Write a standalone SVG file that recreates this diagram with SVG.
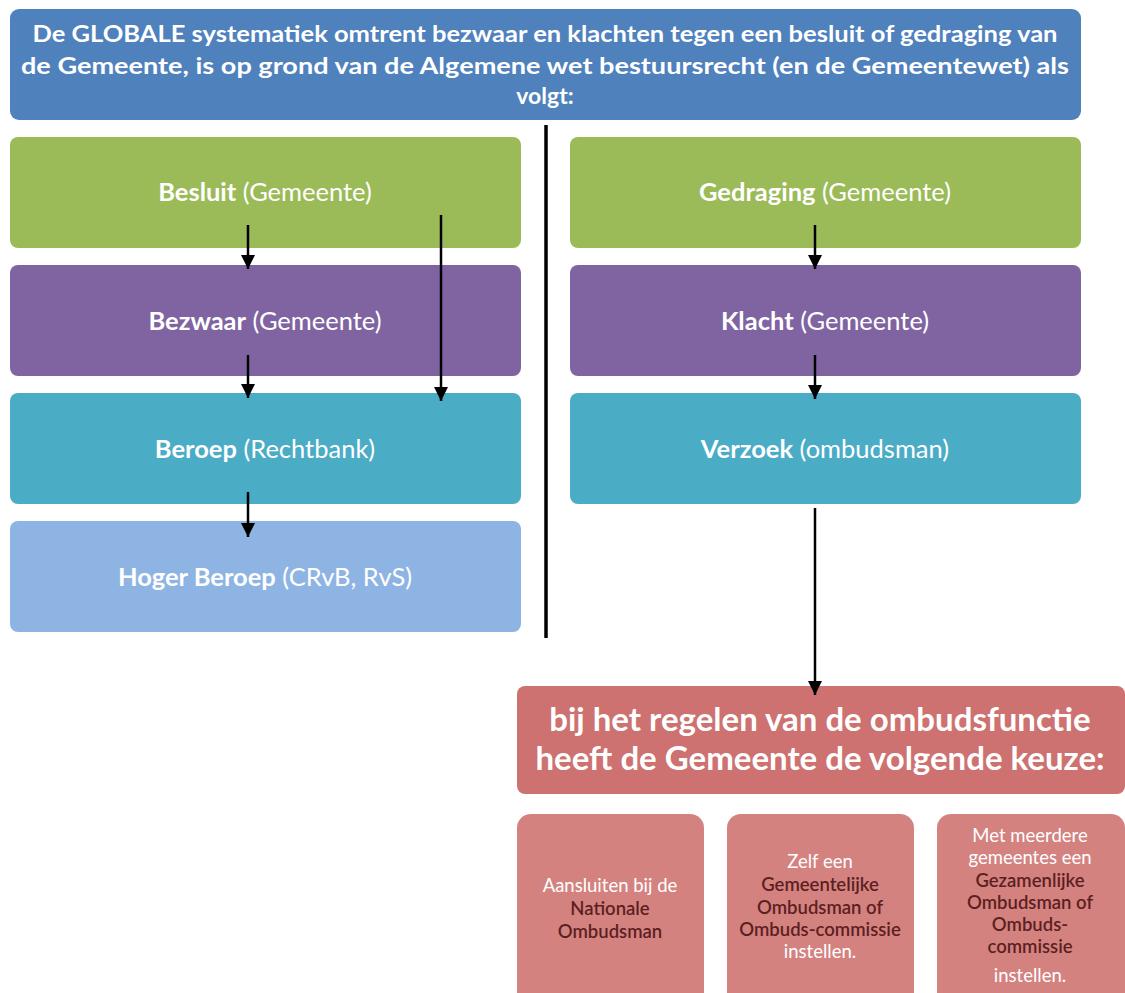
<svg xmlns="http://www.w3.org/2000/svg" width="1125" height="993" viewBox="0 0 1125 993">
<defs>
<marker id="ah" viewBox="0 0 10 10" refX="10" refY="5" markerWidth="5.6" markerHeight="5.6" markerUnits="strokeWidth" orient="auto">
<path d="M0,0 L10,5 L0,10 Z" fill="#000"/>
</marker>
<style>
text{font-family:Lato,"Open Sans","Liberation Sans",sans-serif;fill:#fff;text-anchor:middle}
.hd{font-size:23px;font-weight:bold}
.lb{font-size:25.5px}
.lb tspan.b{font-weight:bold}
.big{font-size:33px;font-weight:bold}
.sm{font-size:18.5px}
.dk{fill:#5c1f1f;font-weight:600}
.conn line{stroke:#000;stroke-width:2.5;fill:none}
</style>
</defs>
<rect width="1125" height="993" fill="#fff"/>
<g id="header">
<rect x="10" y="9" width="1071" height="111" rx="9" fill="#4f81bd"/>
<text class="hd" x="545" y="42" textLength="1025" lengthAdjust="spacingAndGlyphs">De GLOBALE systematiek omtrent bezwaar en klachten tegen een besluit of gedraging van</text>
<text class="hd" x="545" y="74" textLength="1048" lengthAdjust="spacingAndGlyphs">de Gemeente, is op grond van de Algemene wet bestuursrecht (en de Gemeentewet) als</text>
<text class="hd" x="545" y="104">volgt:</text>
</g>
<g id="besluit">
<rect x="10" y="137" width="511" height="111" rx="8" fill="#9bbb59"/>
<text class="lb" x="265" y="201"><tspan class="b">Besluit</tspan> (Gemeente)</text>
</g>
<g id="bezwaar">
<rect x="10" y="265" width="511" height="111" rx="8" fill="#8064a2"/>
<text class="lb" x="265" y="330"><tspan class="b">Bezwaar</tspan> (Gemeente)</text>
</g>
<g id="beroep">
<rect x="10" y="393" width="511" height="111" rx="8" fill="#4bacc6"/>
<text class="lb" x="265" y="458"><tspan class="b">Beroep</tspan> (Rechtbank)</text>
</g>
<g id="hoger-beroep">
<rect x="10" y="521" width="511" height="111" rx="8" fill="#8eb4e3"/>
<text class="lb" x="265" y="586"><tspan class="b">Hoger Beroep</tspan> (CRvB, RvS)</text>
</g>
<g id="gedraging">
<rect x="570" y="137" width="511" height="111" rx="8" fill="#9bbb59"/>
<text class="lb" x="825" y="201"><tspan class="b">Gedraging</tspan> (Gemeente)</text>
</g>
<g id="klacht">
<rect x="570" y="265" width="511" height="111" rx="8" fill="#8064a2"/>
<text class="lb" x="825" y="330"><tspan class="b">Klacht</tspan> (Gemeente)</text>
</g>
<g id="verzoek">
<rect x="570" y="393" width="511" height="111" rx="8" fill="#4bacc6"/>
<text class="lb" x="825" y="458"><tspan class="b">Verzoek</tspan> (ombudsman)</text>
</g>
<g id="keuze">
<rect x="517" y="686" width="608" height="108" rx="8" fill="#cd7270"/>
<text class="big" x="820" y="731">bij het regelen van de ombudsfunctie</text>
<text class="big" x="820" y="770">heeft de Gemeente de volgende keuze:</text>
</g>
<g id="optie-nationaal">
<rect x="517" y="814" width="187" height="200" rx="14" fill="#d48280"/>
<text class="sm" x="610" y="892">Aansluiten bij de</text>
<text class="sm dk" x="610" y="915">Nationale</text>
<text class="sm dk" x="610" y="938">Ombudsman</text>
</g>
<g id="optie-gemeentelijk">
<rect x="727" y="814" width="187" height="200" rx="14" fill="#d48280"/>
<text class="sm" x="820" y="868">Zelf een</text>
<text class="sm dk" x="820" y="891">Gemeentelijke</text>
<text class="sm dk" x="820" y="914">Ombudsman of</text>
<text class="sm dk" x="820" y="936">Ombuds-commissie</text>
<text class="sm" x="820" y="958">instellen.</text>
</g>
<g id="optie-gezamenlijk">
<rect x="937" y="814" width="188" height="200" rx="14" fill="#d48280"/>
<text class="sm" x="1030" y="842">Met meerdere</text>
<text class="sm" x="1030" y="864">gemeentes een</text>
<text class="sm dk" x="1030" y="887">Gezamenlijke</text>
<text class="sm dk" x="1030" y="909">Ombudsman of</text>
<text class="sm dk" x="1030" y="931">Ombuds-</text>
<text class="sm dk" x="1030" y="953">commissie</text>
<text class="sm" x="1030" y="982">instellen.</text>
</g>
<g id="connectors" class="conn">
<line x1="546" y1="125" x2="546" y2="638" style="stroke-width:3.5"/>
<line x1="248" y1="225" x2="248" y2="269" marker-end="url(#ah)"/>
<line x1="248" y1="355" x2="248" y2="398" marker-end="url(#ah)"/>
<line x1="248" y1="492" x2="248" y2="537" marker-end="url(#ah)"/>
<line x1="441" y1="215" x2="441" y2="401" marker-end="url(#ah)"/>
<line x1="815" y1="225" x2="815" y2="269" marker-end="url(#ah)"/>
<line x1="815" y1="355" x2="815" y2="399" marker-end="url(#ah)"/>
<line x1="815" y1="508" x2="815" y2="695" marker-end="url(#ah)"/>
</g>
</svg>
